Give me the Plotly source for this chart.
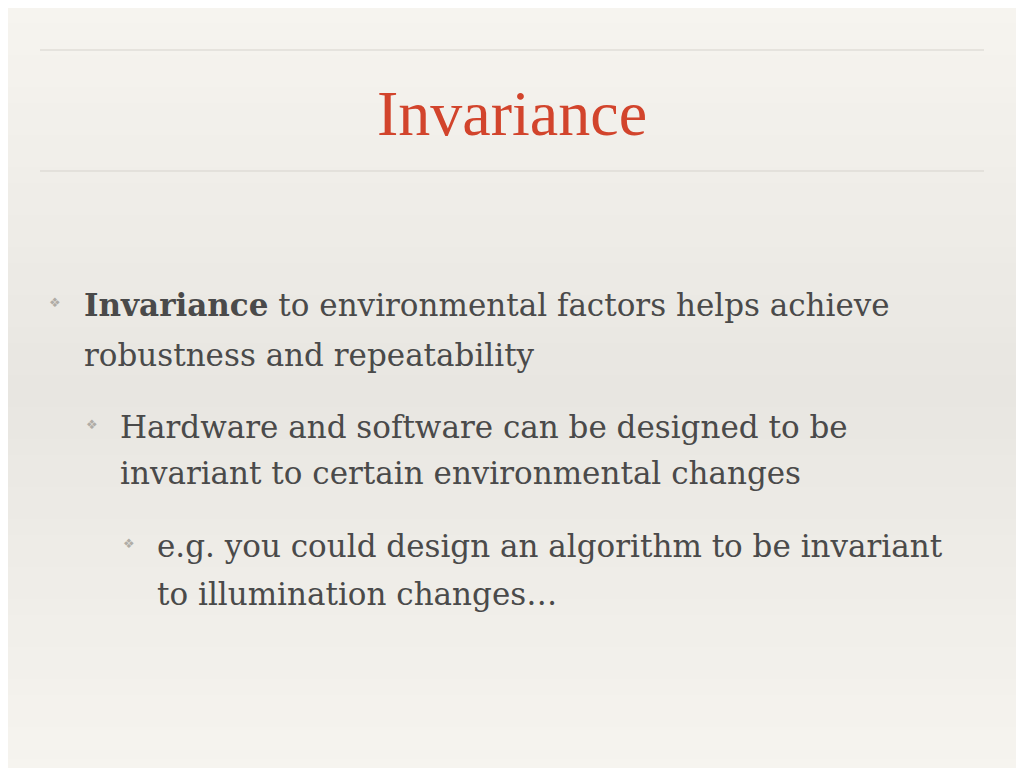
import plotly.graph_objects as go

title = "Invariance"
levels = [0, 1, 2]
lines = [
    ["<b>Invariance</b> to environmental factors helps achieve", "robustness and repeatability"],
    ["Hardware and software can be designed to be", "invariant to certain environmental changes"],
    ["e.g. you could design an algorithm to be invariant", "to illumination changes…"],
]
line_y = [[305, 355], [427, 473], [546, 594]]
bullet_x = [47, 84, 121]
text_x = [82, 118, 155]

OFF = 8  # page body margin
W, H = 1024 - OFF, 768 - OFF

fig = go.Figure()
fig.add_trace(go.Scatter(x=[0, 1024], y=[0, 768], mode="markers",
                         marker=dict(opacity=0), hoverinfo="skip", showlegend=False))

# smooth vertical gradient: light top, greyer middle, light bottom
n = 48
top, mid = (246, 244, 239), (232, 230, 225)
for i in range(n):
    t = i / (n - 1)
    w = 1 - abs(t - 0.5) * 2  # 0 at edges, 1 at middle
    c = tuple(int(round(top[k] + (mid[k] - top[k]) * w)) for k in range(3))
    y0 = OFF + i * (768 / n)
    fig.add_shape(type="rect", x0=0, x1=1100, y0=y0 - 1, y1=y0 + 768 / n + 1,
                  fillcolor="rgb(%d,%d,%d)" % c, line_width=0, layer="below")

for yy in [50, 171]:
    fig.add_shape(type="line", x0=40, x1=984, y0=yy, y1=yy, line=dict(color="#d6d3cd", width=1))

fig.add_annotation(x=512, y=113, text=title, showarrow=False, xanchor="center", yanchor="middle",
                   font=dict(family="Liberation Serif, DejaVu Serif, serif", size=64, color="#d2442c"))

for lv, ls, ys in zip(levels, lines, line_y):
    fig.add_annotation(x=bullet_x[lv], y=ys[0] - 3, text="❖", showarrow=False, xanchor="left",
                       yanchor="middle", font=dict(family="DejaVu Sans", size=13, color="#b0aca6"))
    for t, yy in zip(ls, ys):
        fig.add_annotation(x=text_x[lv], y=yy, text=t, showarrow=False, xanchor="left", yanchor="middle",
                           font=dict(family="DejaVu Serif, serif", size=31, color="#4a4a4a"))

fig.update_layout(width=W, height=H, margin=dict(l=0, r=0, t=0, b=0),
                  paper_bgcolor="#f3f1ec", plot_bgcolor="rgba(0,0,0,0)",
                  xaxis=dict(range=[OFF, 1024], visible=False, fixedrange=True),
                  yaxis=dict(range=[768, OFF], visible=False, fixedrange=True))
fig.write_html("out.html", config={"displayModeBar": False})
